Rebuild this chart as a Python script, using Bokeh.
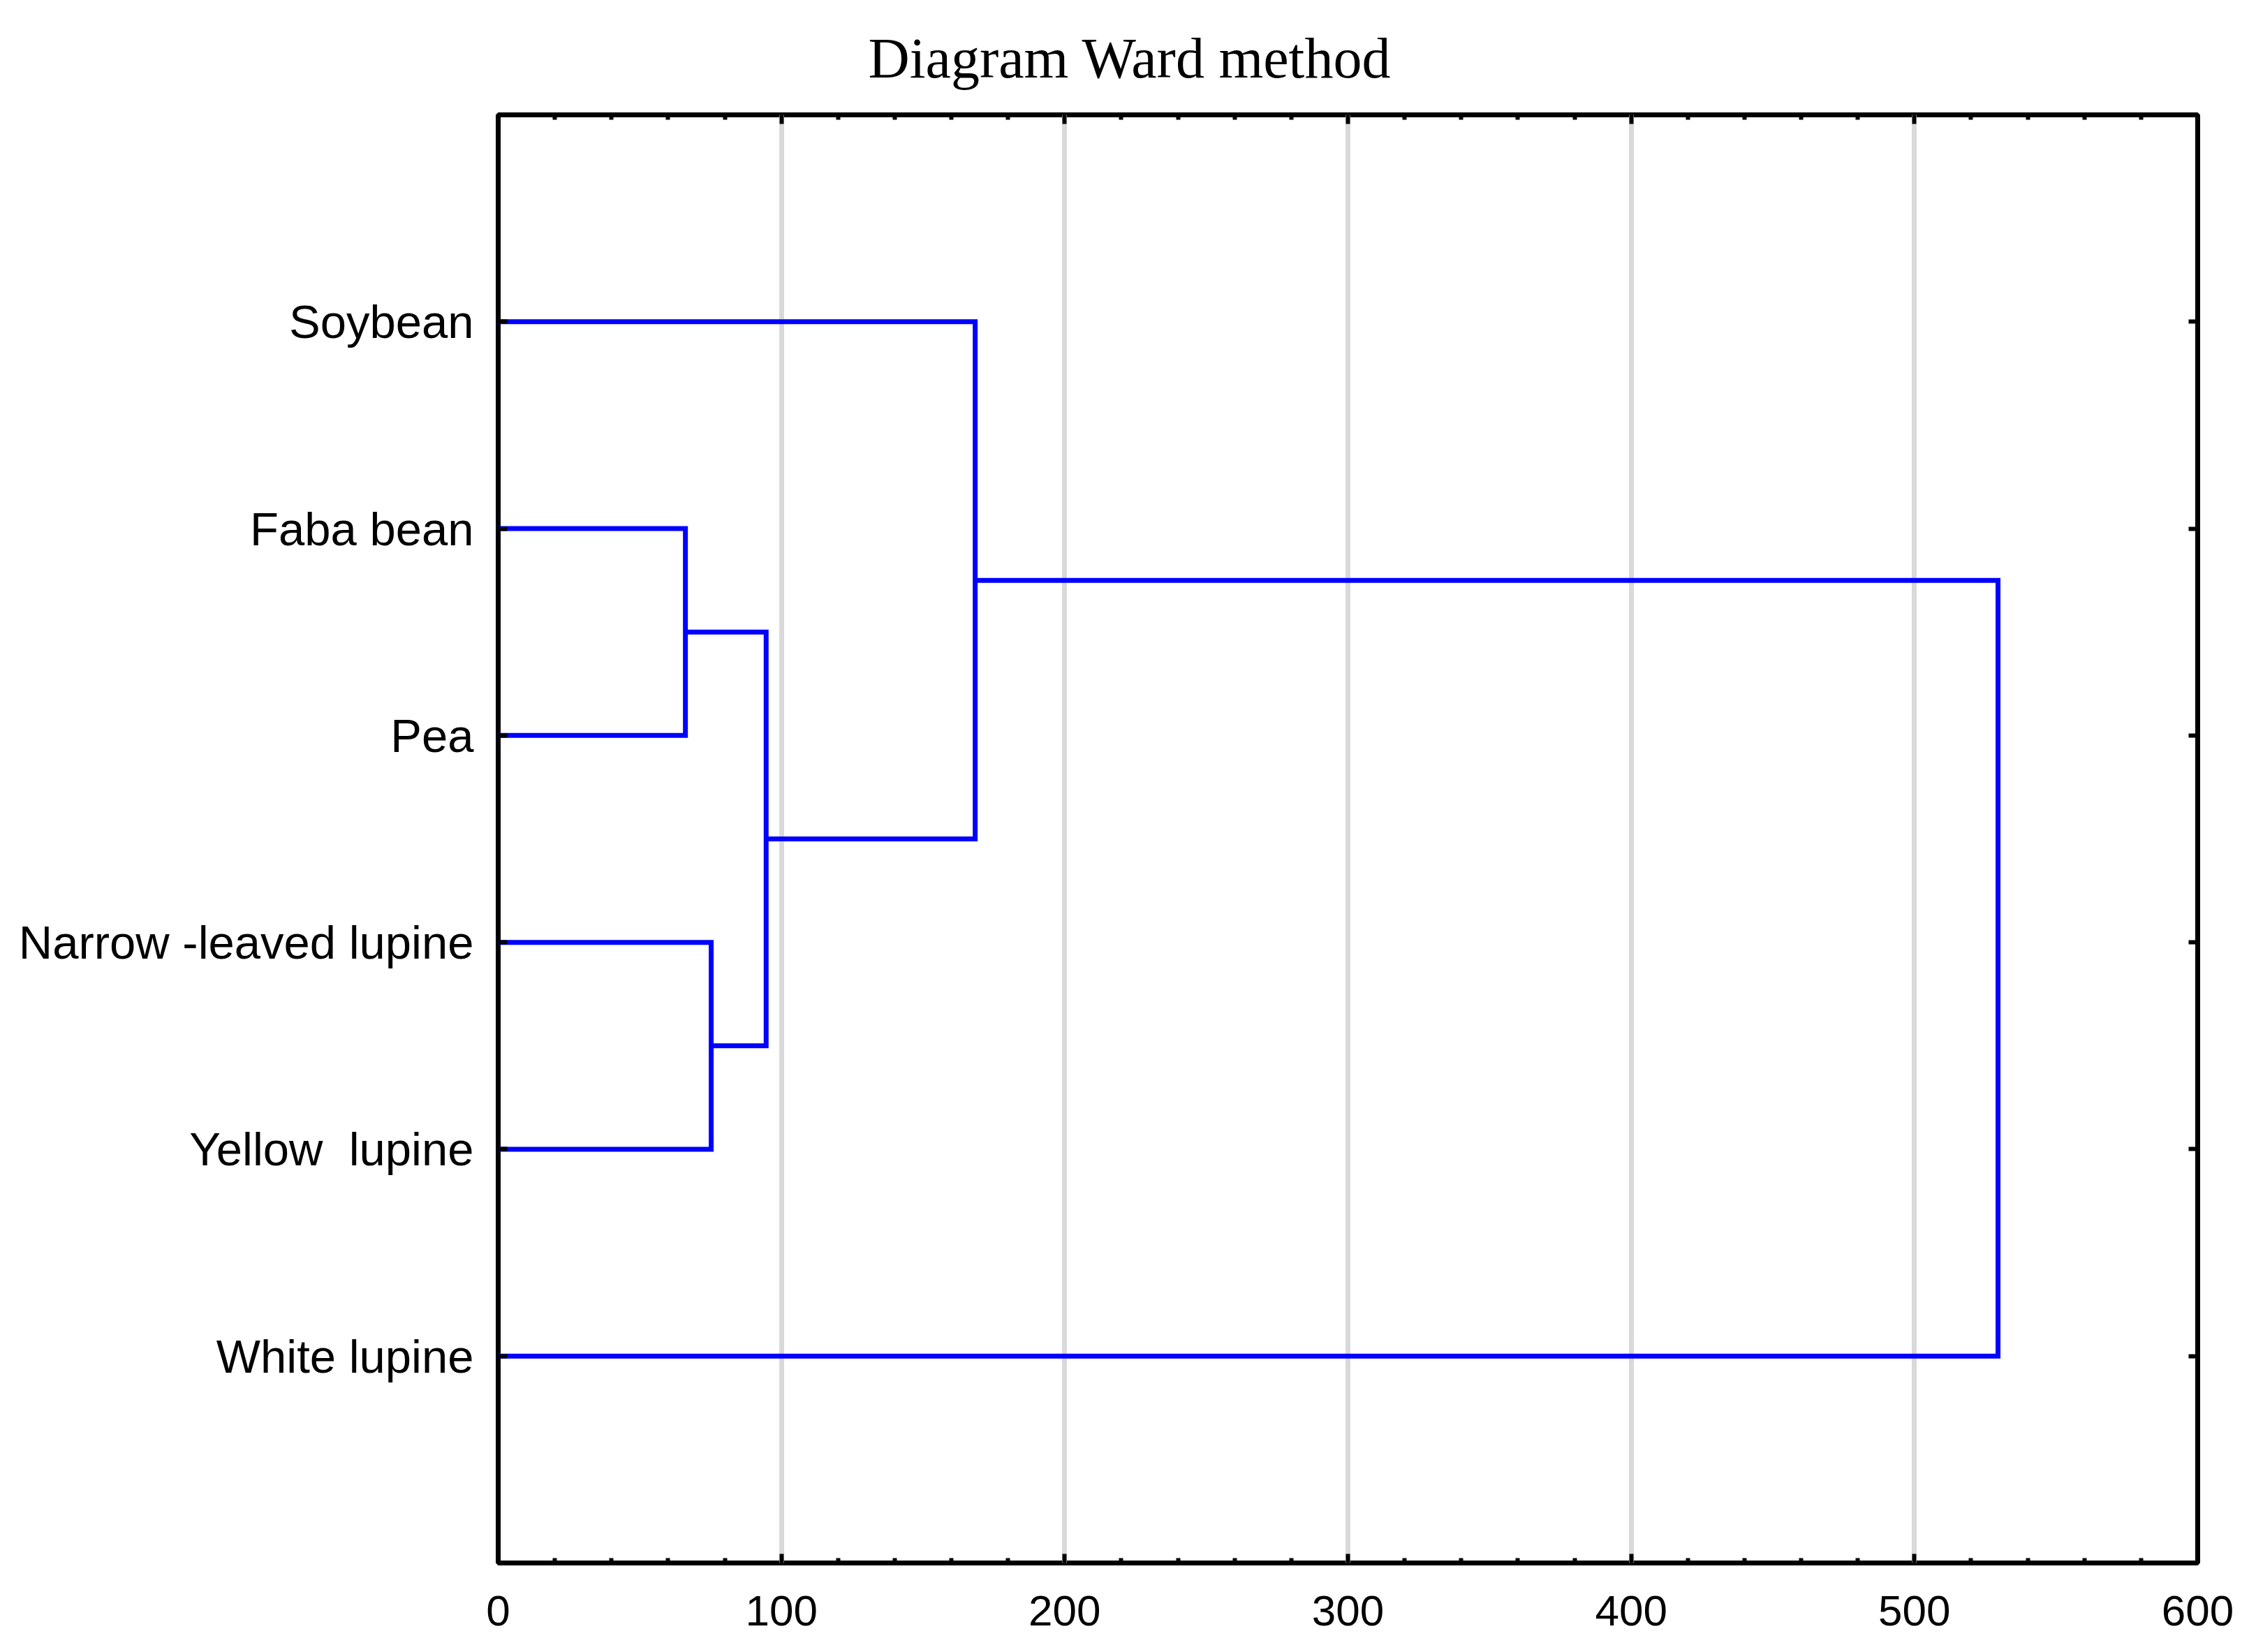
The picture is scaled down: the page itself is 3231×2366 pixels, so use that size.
from bokeh.plotting import figure
from bokeh.models import Range1d, LinearAxis, FixedTicker
from bokeh.embed import file_html
from bokeh.resources import INLINE

# ---- data ----
title_text = "Diagram Ward method"
leaf_labels = ["Soybean", "Faba bean", "Pea", "Narrow -leaved lupine", "Yellow\u00a0 lupine", "White lupine"]
# merges: node ids 0..5 are leaves, 6.. are merged clusters in order
merge_a = [1, 3, 6, 0, 9]
merge_b = [2, 4, 7, 8, 5]
merge_dist = [66.1, 75.2, 94.6, 168.4, 529.5]
x_ticks = [0, 100, 200, 300, 400, 500, 600]
x_minor = [v for v in range(20, 600, 20) if v % 100 != 0]
grid_ticks = [100, 200, 300, 400, 500]

# ---- dendrogram geometry from linkage ----
n = len(leaf_labels)
node_y = [i + 1 for i in range(n)]
node_h = [0.0] * n
xs_list, ys_list = [], []
for a, b, d in zip(merge_a, merge_b, merge_dist):
    xs_list.append([node_h[a], d, d, node_h[b]])
    ys_list.append([node_y[a], node_y[a], node_y[b], node_y[b]])
    node_y.append((node_y[a] + node_y[b]) / 2)
    node_h.append(d)
leaf_pos = list(range(1, n + 1))

p = figure(width=3215, height=2350, output_backend="svg", toolbar_location=None,
           x_range=Range1d(0, 600), y_range=Range1d(n + 1, 0),
           min_border_left=713, min_border_right=68, min_border_top=159, min_border_bottom=112)
p.background_fill_color = "white"
p.border_fill_color = "white"
p.outline_line_color = "black"
p.outline_line_width = 7
p.outline_line_alpha = 1.0

p.title.text = title_text
p.title.text_font = "Liberation Serif"
p.title.text_font_size = "82px"
p.title.text_font_style = "normal"
p.title.text_color = "black"
p.title.align = "left"
p.title.vertical_align = "bottom"
p.title.offset = 530
p.title.standoff = 71

# grid
p.xgrid.ticker = FixedTicker(ticks=grid_ticks)
p.xgrid.grid_line_color = "#d9d9d9"
p.xgrid.grid_line_width = 7
p.ygrid.visible = False

# bottom axis
xa = p.xaxis[0]
xa.ticker = FixedTicker(ticks=x_ticks, minor_ticks=x_minor)
xa.axis_line_color = None
xa.major_tick_in = 13
xa.major_tick_out = 0
xa.minor_tick_in = 7
xa.minor_tick_out = 0
xa.major_tick_line_width = 6
xa.minor_tick_line_width = 6
xa.major_tick_line_color = "black"
xa.minor_tick_line_color = "black"
xa.major_label_text_font = "Liberation Sans"
xa.major_label_text_font_size = "62px"
xa.major_label_text_color = "black"
xa.major_label_standoff = 47

# left axis
ya = p.yaxis[0]
ya.ticker = FixedTicker(ticks=leaf_pos)
ya.major_label_overrides = {pos: lab for pos, lab in zip(leaf_pos, leaf_labels)}
ya.axis_line_color = None
ya.major_tick_in = 13
ya.major_tick_out = 0
ya.minor_tick_line_color = None
ya.major_tick_line_width = 6
ya.major_tick_line_color = "black"
ya.major_label_text_font = "Liberation Sans"
ya.major_label_text_font_size = "67px"
ya.major_label_text_color = "black"
ya.major_label_standoff = 35

# right axis (ticks only)
ra = LinearAxis(ticker=FixedTicker(ticks=leaf_pos))
ra.axis_line_color = None
ra.major_tick_in = 13
ra.major_tick_out = 0
ra.minor_tick_line_color = None
ra.major_tick_line_width = 6
ra.major_tick_line_color = "black"
ra.major_label_text_font_size = "1px"
ra.major_label_text_color = None
ra.major_label_standoff = 0
p.add_layout(ra, "right")

# top axis (ticks only)
ta = LinearAxis(ticker=FixedTicker(ticks=x_ticks, minor_ticks=x_minor))
ta.axis_line_color = None
ta.major_tick_in = 13
ta.major_tick_out = 0
ta.minor_tick_in = 7
ta.minor_tick_out = 0
ta.major_tick_line_width = 6
ta.minor_tick_line_width = 6
ta.major_tick_line_color = "black"
ta.minor_tick_line_color = "black"
ta.major_label_text_font_size = "1px"
ta.major_label_text_color = None
ta.major_label_standoff = 0
p.add_layout(ta, "above")

# dendrogram
p.multi_line(xs_list, ys_list, line_color="#0000FF", line_width=7, line_join="miter", line_cap="butt")

open("out.html", "w").write(file_html(p, INLINE))
